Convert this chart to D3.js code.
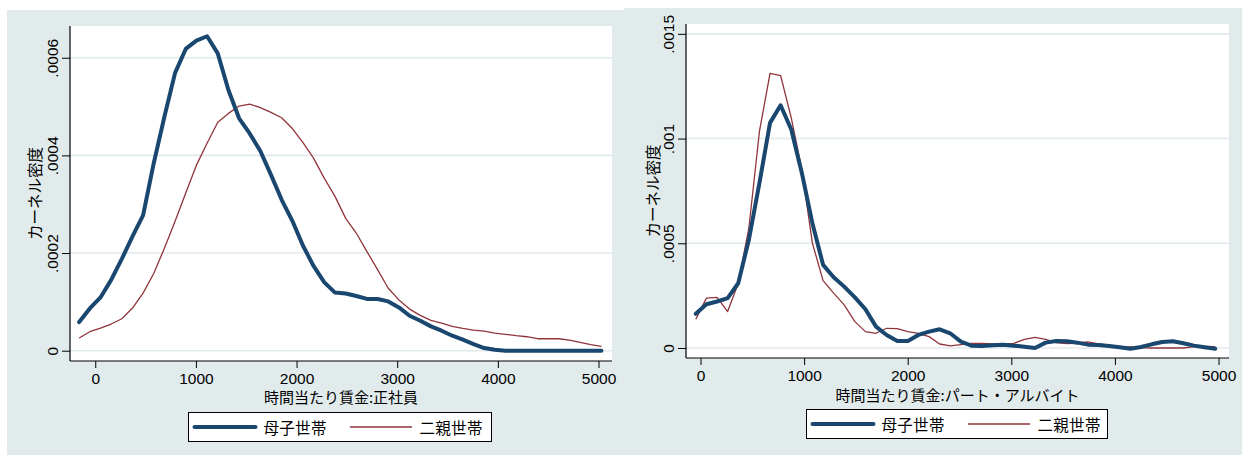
<!DOCTYPE html>
<html lang="ja">
<head>
<meta charset="utf-8">
<script src="https://cdn.jsdelivr.net/npm/d3@7"></script>
<style>
  html, body { margin: 0; padding: 0; background: #ffffff; }
  svg { display: block; }
  .num { font-family: "Liberation Sans Narrow", "Liberation Sans", Arial, sans-serif; }
  .jp { font-family: "Noto Sans CJK JP", "Noto Sans", sans-serif; }
</style>
</head>
<body>
<svg id="chart" width="1242" height="455"></svg>
<script>
// Kernel density of hourly wage (yen), 50 evaluation points per curve.

// --- Regular employees (正社員) ---
const wageSeishain = [-160, -54, 52, 158, 264, 370, 475, 581, 687, 793, 899, 1005, 1111, 1217, 1323, 1429, 1534, 1640, 1746, 1852, 1958, 2064, 2170, 2276, 2382, 2488, 2593, 2699, 2805, 2911, 3017, 3123, 3229, 3335, 3441, 3547, 3652, 3758, 3864, 3970, 4076, 4182, 4288, 4394, 4500, 4606, 4711, 4817, 4923, 5029];
const boshiSeishain = [0.0000586, 0.0000866, 0.000109, 0.000145, 0.000188, 0.000234, 0.000277, 0.000384, 0.000479, 0.000569, 0.000618, 0.000635, 0.000644, 0.000609, 0.000534, 0.000476, 0.000445, 0.000409, 0.000360, 0.000309, 0.000266, 0.000215, 0.000173, 0.000140, 0.000119, 0.000117, 0.000112, 0.000106, 0.000106, 0.000101, 0.0000887, 0.0000716, 0.0000614, 0.0000498, 0.0000409, 0.0000307, 0.0000225, 0.0000136, 0.0000055, 0.000002, 0, 0, 0, 0, 0, 0, 0, 0, 0, 0];
const futaoyaSeishain = [0.0000259, 0.0000389, 0.0000464, 0.0000546, 0.0000655, 0.0000873, 0.000118, 0.000158, 0.000210, 0.000265, 0.000323, 0.000380, 0.000425, 0.000468, 0.000486, 0.000501, 0.000505, 0.000498, 0.000488, 0.000477, 0.000455, 0.000426, 0.000394, 0.000353, 0.000316, 0.000271, 0.000241, 0.000203, 0.000166, 0.000128, 0.000104, 0.0000852, 0.0000723, 0.0000621, 0.0000566, 0.0000498, 0.0000457, 0.0000423, 0.0000402, 0.0000361, 0.0000334, 0.0000307, 0.0000286, 0.0000245, 0.0000245, 0.0000245, 0.0000218, 0.0000170, 0.0000123, 0.0000089];

// --- Part-time workers (パート・アルバイト) ---
const wagePart = [-45, 57, 160, 262, 364, 467, 569, 671, 773, 876, 978, 1080, 1183, 1285, 1387, 1490, 1592, 1694, 1796, 1899, 2001, 2103, 2206, 2308, 2410, 2513, 2615, 2717, 2819, 2922, 3024, 3126, 3229, 3331, 3433, 3536, 3638, 3740, 3842, 3945, 4047, 4149, 4252, 4354, 4456, 4559, 4661, 4763, 4865, 4968];
const boshiPart = [0.000163, 0.000209, 0.000222, 0.000238, 0.000309, 0.000517, 0.000788, 0.001075, 0.001159, 0.001043, 0.000836, 0.000596, 0.000397, 0.000338, 0.000293, 0.000242, 0.000185, 0.000102, 0.0000622, 0.0000335, 0.0000335, 0.0000622, 0.0000781, 0.0000893, 0.0000702, 0.0000303, 0.0000112, 0.0000096, 0.0000128, 0.000016, 0.0000112, 0.0000064, 0, 0.0000255, 0.0000335, 0.0000319, 0.0000255, 0.000016, 0.0000144, 0.0000096, 0.0000032, -0.0000032, 0.0000048, 0.0000175, 0.0000287, 0.0000319, 0.0000223, 0.0000112, 0.0000032, -0.0000032];
const futaoyaPart = [0.000137, 0.000238, 0.000242, 0.000174, 0.000309, 0.000573, 0.001035, 0.001311, 0.001301, 0.001099, 0.000852, 0.000501, 0.000322, 0.000262, 0.000206, 0.000126, 0.0000781, 0.0000702, 0.0000941, 0.0000925, 0.0000781, 0.0000702, 0.0000542, 0.0000191, 0.0000096, 0.000016, 0.0000223, 0.0000223, 0.0000191, 0.0000191, 0.0000223, 0.0000415, 0.000051, 0.0000415, 0.0000255, 0.0000207, 0.0000239, 0.0000287, 0.0000191, 0.0000128, 0.0000064, 0.0000048, 0.0000016, 0, 0, 0, 0, 0.0000064, 0.000008, 0.0000064];

// Axis ticks and labels
const xTicks = [0, 1000, 2000, 3000, 4000, 5000];
const yTicksSeishain = [0, 0.0002, 0.0004, 0.0006];
const yLabelsSeishain = ["0", ".0002", ".0004", ".0006"];
const yTicksPart = [0, 0.0005, 0.001, 0.0015];
const yLabelsPart = ["0", ".0005", ".001", ".0015"];

const seriesNames = ["母子世帯", "二親世帯"];
const yTitle = "カーネル密度";
const xTitleSeishain = "時間当たり賃金:正社員";
const xTitlePart = "時間当たり賃金:パート・アルバイト";

const NAVY = "#1a476f";
const MAROON = "#90353b";
const BG = "#e2ebec";
const GRID = "#e0e9ec";

const svg = d3.select("#chart");

function drawPanel(p) {
  const g = svg.append("g");

  // panel background
  g.append("rect")
    .attr("x", p.bg[0]).attr("y", p.bg[1])
    .attr("width", p.bg[2]).attr("height", p.bg[3])
    .attr("fill", BG);

  const x = d3.scaleLinear().domain(p.xDomain).range([p.left, p.right]);
  const y = d3.scaleLinear().domain(p.yDomain).range([p.bottom, p.top]);

  // plot region
  g.append("rect")
    .attr("x", p.left).attr("y", p.top)
    .attr("width", p.right - p.left).attr("height", p.bottom - p.top)
    .attr("fill", "#ffffff");

  // horizontal grid
  g.append("g").selectAll("line").data(p.yTicks).join("line")
    .attr("x1", p.left).attr("x2", p.right)
    .attr("y1", d => y(d)).attr("y2", d => y(d))
    .attr("stroke", GRID).attr("stroke-width", 1.6);

  // density curves
  const line = d3.line().x(d => x(d[0])).y(d => y(d[1]));
  const ptsB = p.xs.map((v, i) => [v, p.boshi[i]]);
  const ptsF = p.xs.map((v, i) => [v, p.futaoya[i]]);
  g.append("path").datum(ptsF).attr("d", line)
    .attr("fill", "none").attr("stroke", MAROON).attr("stroke-width", 1.3)
    .attr("stroke-linejoin", "round");
  g.append("path").datum(ptsB).attr("d", line)
    .attr("fill", "none").attr("stroke", NAVY).attr("stroke-width", 4)
    .attr("stroke-linejoin", "round").attr("stroke-linecap", "round");

  // x axis
  const xAxis = d3.axisBottom(x).tickValues(xTicks).tickSize(7).tickSizeOuter(0).tickPadding(5)
    .tickFormat(d3.format("d"));
  const gx = g.append("g").attr("transform", `translate(0,${p.bottom})`).call(xAxis);
  gx.select(".domain").attr("stroke", "#000").attr("stroke-width", 1.2)
    .attr("d", `M${p.left},0H${p.right}`);
  gx.selectAll(".tick line").attr("stroke", "#000");
  gx.selectAll(".tick text").attr("class", "num").attr("font-size", 15.5).attr("fill", "#000")
    .attr("dy", "0.71em");

  // y axis
  const yAxis = d3.axisLeft(y).tickValues(p.yTicks).tickSize(8).tickSizeOuter(0).tickPadding(0)
    .tickFormat((d, i) => p.yLabels[i]);
  const gy = g.append("g").attr("transform", `translate(${p.left},0)`).call(yAxis);
  gy.select(".domain").attr("stroke", "#000").attr("stroke-width", 1.2)
    .attr("d", `M0,${p.top}V${p.bottom}`);
  gy.selectAll(".tick line").attr("stroke", "#000");
  gy.selectAll(".tick text").attr("class", "num").attr("font-size", 15.5).attr("fill", "#000")
    .attr("x", 0).attr("dy", 0)
    .attr("text-anchor", "middle")
    .attr("transform", `translate(${p.yLabelX - p.left},0) rotate(-90)`)
    .attr("dominant-baseline", "central");

  // axis titles
  g.append("text").attr("class", "jp")
    .attr("x", (p.left + p.right) / 2).attr("y", p.xTitleY)
    .attr("text-anchor", "middle").attr("font-size", 15).attr("fill", "#000")
    .text(p.xTitle);
  g.append("text").attr("class", "jp")
    .attr("transform", `translate(${p.yTitleX},${(p.top + p.bottom) / 2}) rotate(-90)`)
    .attr("text-anchor", "middle").attr("dominant-baseline", "central")
    .attr("font-size", 15.5).attr("fill", "#000")
    .text(yTitle);

  // legend
  const L = p.legend;
  const lg = g.append("g");
  lg.append("rect").attr("x", L.x).attr("y", L.y).attr("width", L.w).attr("height", L.h)
    .attr("fill", "#ffffff").attr("stroke", "#000").attr("stroke-width", 1);
  const cy = L.y + L.h / 2;
  const entries = [
    { name: seriesNames[0], color: NAVY, width: 4, x0: L.x + 6 },
    { name: seriesNames[1], color: MAROON, width: 1.3, x0: L.x + 162 }
  ];
  entries.forEach(e => {
    lg.append("line").attr("x1", e.x0).attr("x2", e.x0 + 61)
      .attr("y1", cy).attr("y2", cy)
      .attr("stroke", e.color).attr("stroke-width", e.width).attr("stroke-linecap", "round");
    lg.append("text").attr("class", "jp")
      .attr("x", e.x0 + 69).attr("y", cy).attr("dominant-baseline", "central")
      .attr("font-size", 15.5).attr("letter-spacing", 0.3).attr("fill", "#000")
      .text(e.name);
  });
}

drawPanel({
  bg: [7, 10, 617, 445],
  left: 70, right: 612, top: 26, bottom: 361,
  xDomain: [-251, 5134], yDomain: [-0.0000211, 0.000665],
  yTicks: yTicksSeishain, yLabels: yLabelsSeishain,
  xs: wageSeishain, boshi: boshiSeishain, futaoya: futaoyaSeishain,
  yLabelX: 52, yTitleX: 34, xTitleY: 403, xTitle: xTitleSeishain,
  legend: { x: 188.5, y: 412.5, w: 303, h: 29 }
});

drawPanel({
  bg: [624, 8, 618, 447],
  left: 686, right: 1229, top: 24, bottom: 358,
  xDomain: [-140, 5101], yDomain: [-0.0000478, 0.001547],
  yTicks: yTicksPart, yLabels: yLabelsPart,
  xs: wagePart, boshi: boshiPart, futaoya: futaoyaPart,
  yLabelX: 668, yTitleX: 652, xTitleY: 401, xTitle: xTitlePart,
  legend: { x: 806.5, y: 409.5, w: 301, h: 29 }
});
</script>
</body>
</html>
